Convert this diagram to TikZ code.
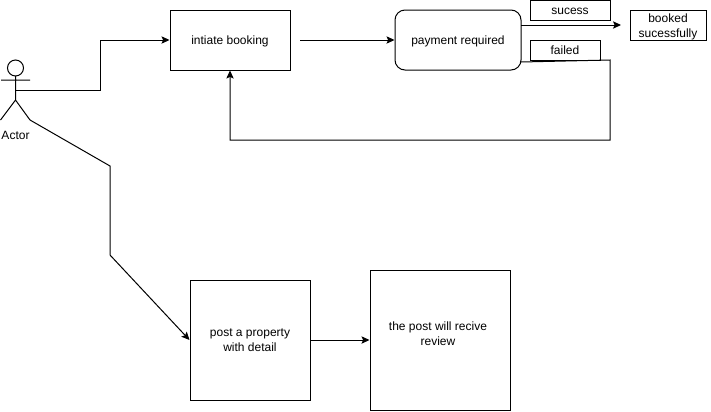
\documentclass[tikz,border=0pt]{standalone}
\usepackage{fontspec}
\setmainfont{Liberation Sans}
\usetikzlibrary{arrows.meta,calc}

\tikzset{
  boxnode/.style={draw,line width=0.75pt,minimum width=#1,inner sep=0pt,align=center,
     font=\fontsize{9}{11.25}\selectfont},
  oneline/.style={text height=8pt,text depth=1pt},
  link/.style={draw,line width=0.75pt,>={Stealth[length=6pt,width=5.5pt,inset=1.2pt]}},
}

\begin{document}
\begin{tikzpicture}[x=0.75pt,y=-0.75pt]

\useasboundingbox (0,0) rectangle (711,411);
\fill[white] (0,0) rectangle (711,411);

% actor
\node[draw,circle,line width=0.75pt,minimum size=12pt,inner sep=0pt] (head) at (15.5,68) {};
\coordinate (neck) at (15.5,76);
\coordinate (hip) at (15.5,100);
\coordinate (armL) at (1,80);
\coordinate (armR) at (30,80);
\coordinate (legL) at (0.5,120);
\coordinate (legR) at (30,120);
\coordinate (belly) at (15.5,90);
\draw[link] (neck)--(hip) (armL)--(armR) (legL)--(hip)--(legR);
\node[font=\fontsize{9}{11.25}\selectfont,oneline] (actor) at (15.5,135) {Actor};

% top row
\node[boxnode=90pt,minimum height=45pt,oneline] (booking) at (230,40) {intiate booking};
\node[boxnode=94.5pt,minimum height=45pt,rounded corners=7.5pt,oneline] (payment) at (458,40) {payment required};
\node[boxnode=60pt,minimum height=15pt,oneline] (sucess) at (570,10) {sucess};
\node[boxnode=52.5pt,minimum height=15pt,oneline] (failed) at (565,50) {failed};
\node[boxnode=57pt,minimum height=22.5pt,text depth=0pt] (booked) at (668,25.5) {booked\\sucessfully};

% bottom row
\node[boxnode=90pt,minimum height=90pt] (post) at (250,340) {post a property\\with detail};
\node[boxnode=105pt,minimum height=105pt,text depth=9pt] (review) at (440,340) {the post will recive\kern3pt\\review\kern3pt};

\coordinate (start) at (300,40);
\coordinate (payA) at (521,25);
\coordinate (payB) at (521,62);
\coordinate (bookedIn) at (621,25);

\draw[link,->] (belly)--(100,90)--(100,40)--(booking.west);
\draw[link,->] (start)--(payment.west);
\draw[link,->] (payA)--(bookedIn);
\draw[link,->] (payB)--(610,60)--(610,140)--(230,140)--(booking.south);
\draw[link,->] (legR)--(110,166)--(110,255)--(post.west);
\draw[link,->] (post.east)--(review.west);

\end{tikzpicture}
\end{document}
